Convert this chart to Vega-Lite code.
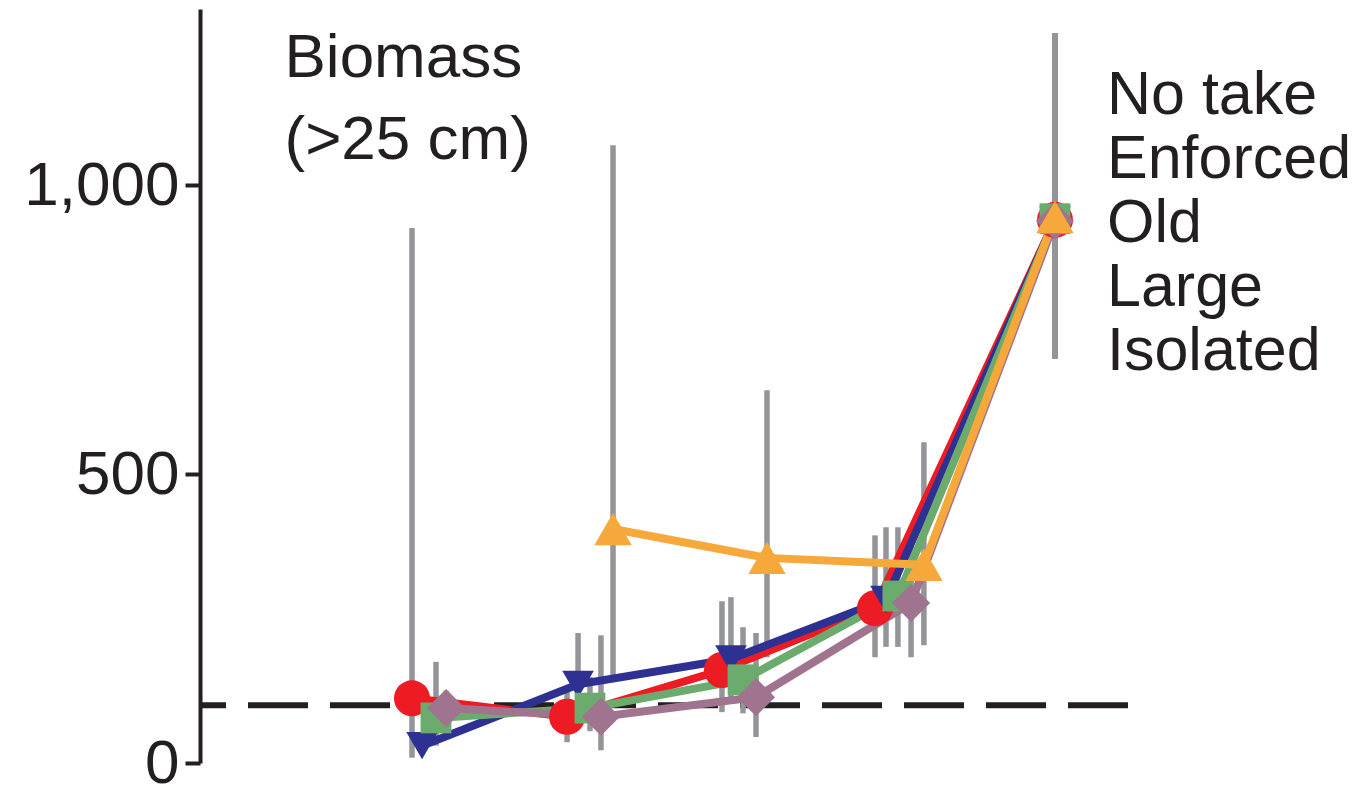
{
  "$schema": "https://vega.github.io/schema/vega-lite/v6.json",
  "width": 937,
  "height": 754,
  "autosize": {"type": "none"},
  "padding": {"left": 200, "top": 9, "right": 223, "bottom": 23},
  "background": "white",
  "config": {
    "view": {"stroke": null},
    "font": "Liberation Sans"
  },
  "data": {
    "values": [
      {"series": "No take", "x": 0.845, "y": 112, "lo": 9, "hi": 926},
      {"series": "No take", "x": 1.847, "y": 80, "lo": 36, "hi": 130},
      {"series": "No take", "x": 2.848, "y": 161, "lo": 88, "hi": 280},
      {"series": "No take", "x": 3.837, "y": 268, "lo": 183, "hi": 394},
      {"series": "No take", "x": 5, "y": 940, "lo": 700, "hi": 1263},
      {"series": "Enforced", "x": 0.91, "y": 30, "lo": 14, "hi": 52},
      {"series": "Enforced", "x": 1.918, "y": 136, "lo": 80, "hi": 225},
      {"series": "Enforced", "x": 2.906, "y": 180, "lo": 110, "hi": 287},
      {"series": "Enforced", "x": 3.908, "y": 283, "lo": 201, "hi": 408},
      {"series": "Enforced", "x": 5, "y": 940, "lo": 700, "hi": 1263},
      {"series": "Old", "x": 1.0, "y": 78, "lo": 30, "hi": 175},
      {"series": "Old", "x": 1.995, "y": 95, "lo": 55, "hi": 149},
      {"series": "Old", "x": 2.984, "y": 144, "lo": 86, "hi": 235},
      {"series": "Old", "x": 3.985, "y": 289, "lo": 201, "hi": 408},
      {"series": "Old", "x": 5, "y": 942, "lo": 700, "hi": 1263},
      {"series": "Large", "x": 1.065, "y": 95, "lo": 70, "hi": 125},
      {"series": "Large", "x": 2.066, "y": 80, "lo": 22, "hi": 221},
      {"series": "Large", "x": 3.068, "y": 114, "lo": 45, "hi": 225},
      {"series": "Large", "x": 4.07, "y": 277, "lo": 183, "hi": 403},
      {"series": "Large", "x": 5, "y": 938, "lo": 700, "hi": 1263},
      {"series": "Isolated", "x": 2.144, "y": 405, "lo": 144, "hi": 1069},
      {"series": "Isolated", "x": 3.139, "y": 355, "lo": 183, "hi": 645},
      {"series": "Isolated", "x": 4.153, "y": 343, "lo": 204, "hi": 555},
      {"series": "Isolated", "x": 5, "y": 945, "lo": 700, "hi": 1263}
    ]
  },
  "layer": [
    {
      "data": {"values": [{"ref": 100}]},
      "mark": {"type": "rule", "color": "#231f20", "strokeWidth": 6, "strokeDash": [60, 22], "strokeDashOffset": 73},
      "encoding": {
        "y": {
          "field": "ref",
          "type": "quantitative",
          "scale": {"domain": [0, 1305], "nice": false, "zero": true},
          "axis": {
            "values": [0, 500, 1000],
            "format": ",d",
            "title": ["Biomass", "(>25 cm)"],
            "titleAngle": 0,
            "titleX": 84,
            "titleY": 67,
            "titleAlign": "left",
            "titleBaseline": "alphabetic",
            "titleFontSize": 62,
            "titleFont": "Liberation Sans",
            "titleFontWeight": "normal",
            "titleColor": "#231f20",
            "titleLineHeight": 82,
            "grid": false,
            "domainColor": "#231f20",
            "domainWidth": 4,
            "tickColor": "#231f20",
            "tickWidth": 4,
            "tickSize": 15,
            "labelFontSize": 62,
            "labelFont": "Liberation Sans",
            "labelColor": "#231f20",
            "labelPadding": 6
          }
        }
      }
    },
    {
      "mark": {"type": "rule", "color": "#939598", "strokeWidth": 5.5},
      "encoding": {
        "x": {"field": "x", "type": "quantitative", "scale": {"domain": [-0.525, 5.53], "nice": false, "zero": false}, "axis": null},
        "y": {"field": "lo", "type": "quantitative"},
        "y2": {"field": "hi"}
      }
    },
    {
      "mark": {"type": "line", "strokeWidth": 8},
      "encoding": {
        "x": {"field": "x", "type": "quantitative"},
        "y": {"field": "y", "type": "quantitative"},
        "order": {"field": "x"},
        "color": {
          "field": "series",
          "type": "nominal",
          "scale": {
            "domain": ["No take", "Enforced", "Old", "Large", "Isolated"],
            "range": ["#ed1c24", "#2e3192", "#6cab6e", "#a0738f", "#f7a83b"]
          },
          "legend": {
            "orient": "none",
            "legendX": 842,
            "legendY": 56,
            "title": null,
            "labelFontSize": 61,
            "labelFont": "Liberation Sans",
            "labelColor": "#231f20",
            "labelLimit": 0,
            "rowPadding": 2,
            "padding": 0,
            "encode": {
              "symbols": {"update": {"opacity": {"value": 0}}}
            }
          }
        }
      }
    },
    {
      "mark": {"type": "point", "filled": true, "opacity": 1, "strokeWidth": 0},
      "encoding": {
        "x": {"field": "x", "type": "quantitative"},
        "y": {"field": "y", "type": "quantitative"},
        "color": {"field": "series", "type": "nominal"},
        "shape": {
          "field": "series",
          "type": "nominal",
          "scale": {
            "domain": ["No take", "Enforced", "Old", "Large", "Isolated"],
            "range": ["circle", "triangle-down", "square", "diamond", "triangle-up"]
          },
          "legend": null
        },
        "size": {
          "field": "series",
          "type": "nominal",
          "scale": {
            "type": "ordinal",
            "domain": ["No take", "Enforced", "Old", "Large", "Isolated"],
            "range": [1300, 1000, 950, 1450, 1400]
          },
          "legend": null
        }
      }
    }
  ]
}
